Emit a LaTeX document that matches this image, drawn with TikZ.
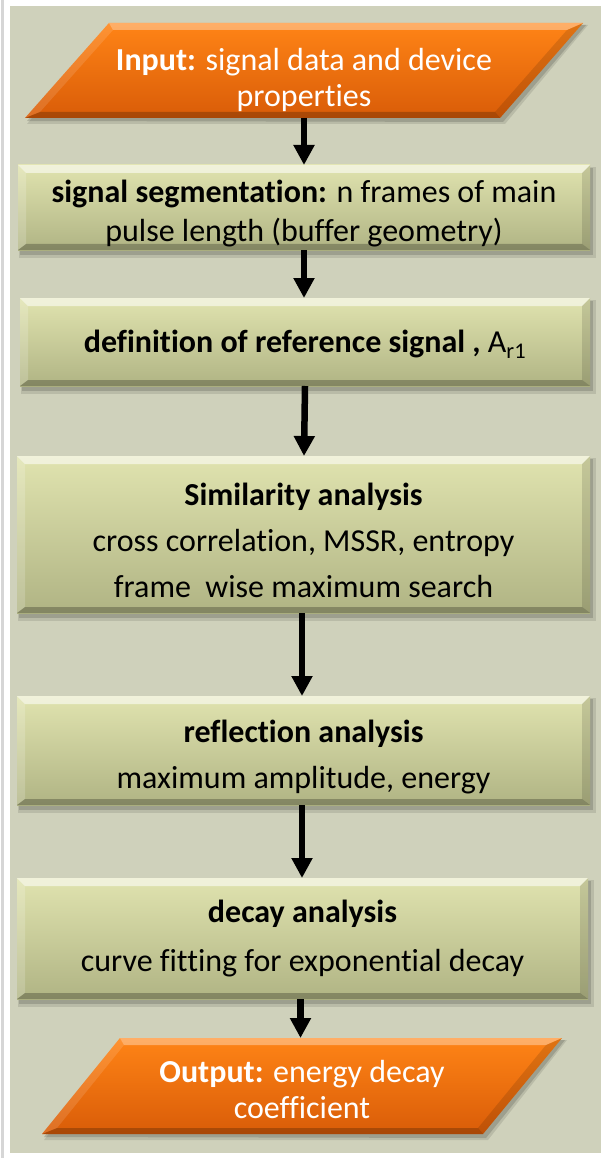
\documentclass[tikz,border=0pt]{standalone}
\usepackage{fontspec}
\setmainfont{Carlito}[Ligatures=CommonOff]
\usetikzlibrary{arrows.meta,backgrounds,calc}

\definecolor{bgc}{HTML}{CFD1BB}
\definecolor{edgegray}{HTML}{D6D6D6}
\definecolor{boxtop}{HTML}{E0E3AF}
\definecolor{boxbot}{HTML}{B0B484}
\definecolor{ortop}{HTML}{FF8416}
\definecolor{orbot}{HTML}{D95C08}

\tikzset{
  boxnode/.style={rectangle, inner sep=0pt, outer sep=0pt},
  iotxt/.style={text=white, align=center, font=\fontsize{32}{36}\selectfont},
  boxtxt/.style={text=black, align=center, font=\fontsize{32}{39}\selectfont},
  flow/.style={line width=6.5pt, -{Triangle[length=20pt,width=20pt]}},
}

% bevelled, shaded rectangle behind a named node
\newcommand{\bevelrect}[1]{%
  \fill[black,opacity=.10] ([shift={(1,2)}]#1.north west) rectangle ([shift={(6,8)}]#1.south east);
  \fill[black,opacity=.15] ([shift={(2,3)}]#1.north west) rectangle ([shift={(3,5)}]#1.south east);
  \shade[top color=boxtop,bottom color=boxbot] (#1.north west) rectangle (#1.south east);
  \fill[white,opacity=.55] (#1.north west) -- (#1.north east) -- ([shift={(-8,8)}]#1.north east) -- ([shift={(8,8)}]#1.north west) -- cycle;
  \fill[white,opacity=.18] (#1.north west) -- ([shift={(8,8)}]#1.north west) -- ([shift={(8,-6)}]#1.south west) -- (#1.south west) -- cycle;
  \fill[black,opacity=.25] (#1.south west) -- (#1.south east) -- ([shift={(-8,-6)}]#1.south east) -- ([shift={(8,-6)}]#1.south west) -- cycle;
  \fill[black,opacity=.12] (#1.north east) -- ([shift={(-8,8)}]#1.north east) -- ([shift={(-8,-6)}]#1.south east) -- (#1.south east) -- cycle;
}

% bevelled, shaded parallelogram inside a named node; #2 = top-left offset, #3 = bottom-right offset
\newcommand{\bevelpara}[3]{%
  \coordinate (#1TL) at ($(#1.north west)+(#2,0)$);
  \coordinate (#1TR) at (#1.north east);
  \coordinate (#1BR) at ($(#1.south east)+(-#3,0)$);
  \coordinate (#1BL) at (#1.south west);
  \fill[black,opacity=.10] ($(#1BL)+(2,6)$) -- ($(#1TL)+(2,2)$) -- ($(#1TR)+(5,2)$) -- ($(#1BR)+(5,6)$) -- cycle;
  \fill[black,opacity=.15] ($(#1BL)+(2,3)$) -- ($(#1TL)+(2,2)$) -- ($(#1TR)+(3,2)$) -- ($(#1BR)+(3,4)$) -- cycle;
  \shade[top color=ortop,bottom color=orbot] (#1BL) -- (#1TL) -- (#1TR) -- (#1BR) -- cycle;
  \fill[white,opacity=.35] (#1TL) -- (#1TR) -- ($(#1TR)+(-16,7)$) -- ($(#1TL)+(4,7)$) -- cycle;
  \fill[black,opacity=.22] (#1BL) -- (#1BR) -- ($(#1BR)+(-5,-6)$) -- ($(#1BL)+(15,-6)$) -- cycle;
  \fill[black,opacity=.12] (#1TR) -- (#1BR) -- ($(#1BR)+(-5,-6)$) -- ($(#1TR)+(-16,7)$) -- cycle;
  \fill[white,opacity=.12] (#1TL) -- (#1BL) -- ($(#1BL)+(15,-6)$) -- ($(#1TL)+(4,7)$) -- cycle;
}

\begin{document}
\begin{tikzpicture}[x=1pt,y=-1pt]
\useasboundingbox (0,0) rectangle (601,1158);

% process shapes (outlines are painted on the background layer)
\node[boxnode, minimum width=558pt, minimum height=95pt]  (in)   at (304,70.5)   {};
\node[boxnode, minimum width=572pt, minimum height=85pt]  (seg)  at (304,207.5)  {};
\node[boxnode, minimum width=570pt, minimum height=88pt]  (ref)  at (305,342)    {};
\node[boxnode, minimum width=573pt, minimum height=157pt] (sim)  at (303.5,534.5){};
\node[boxnode, minimum width=573pt, minimum height=109pt] (refl) at (303.5,750.5){};
\node[boxnode, minimum width=571pt, minimum height=121pt] (dec)  at (302.5,938.5){};
\node[boxnode, minimum width=520pt, minimum height=96pt]  (out)  at (302,1086)   {};

% labels
\node[iotxt] (intxt) at ([yshift=-9pt]in.center)
  {\textbf{Input:} signal data and device\\properties};
\node[boxtxt] (segtxt) at ([yshift=-6.5pt]seg.center)
  {\textbf{signal segmentation:} n frames of main\\pulse length (buffer geometry)};
\node[boxtxt] (reftxt) at ([yshift=-2pt]ref.center)
  {\textbf{definition of reference signal ,} A\textsubscript{r1}};
\node[boxtxt, font=\fontsize{32}{46}\selectfont] (simtxt) at ([yshift=-5.5pt]sim.center)
  {\textbf{Similarity analysis}\\cross correlation, MSSR, entropy\\frame\ \ wise maximum search};
\node[boxtxt, font=\fontsize{32}{46}\selectfont] (refltxt) at ([yshift=-7pt]refl.center)
  {\textbf{reflection analysis}\\maximum amplitude, energy};
\node[boxtxt, font=\fontsize{32}{49}\selectfont] (dectxt) at ([yshift=-0.5pt]dec.center)
  {\textbf{decay analysis}\\curve fitting for exponential decay};
\node[iotxt] (outtxt) at ([yshift=-3pt]out.center)
  {\textbf{Output:} energy decay\\coefficient};

% flow arrows
\draw[flow] (in.south)   -- (in.south |- seg.north);
\draw[flow] (seg.south)  -- (seg.south |- ref.north);
\draw[flow] (ref.south)  -- ([xshift=-1pt]ref.south |- sim.north);
\draw[flow] ([xshift=-1.5pt]sim.south)  -- ([xshift=-1.5pt]sim.south |- refl.north);
\draw[flow] ([xshift=-1.5pt]refl.south) -- ([xshift=-1.5pt]refl.south |- dec.north);
\draw[flow] ([xshift=-2pt]dec.south)  -- ([xshift=-2pt]dec.south |- out.north);

\begin{scope}[on background layer]
  \fill[edgegray] (1,0) rectangle (3.5,1158);
  \fill[bgc] (10,6) rectangle (601,1153);
  \bevelpara{in}{84}{83}
  \bevelrect{seg}
  \bevelrect{ref}
  \bevelrect{sim}
  \bevelrect{refl}
  \bevelrect{dec}
  \bevelpara{out}{78}{79}
\end{scope}
\end{tikzpicture}
\end{document}
